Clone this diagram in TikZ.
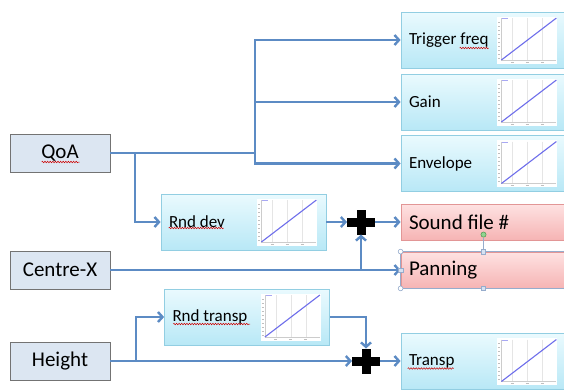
\documentclass[tikz,border=0pt]{standalone}
\usepackage{fontspec}
\setmainfont{Carlito}
\usetikzlibrary{positioning,arrows.meta,decorations.pathmorphing}

\definecolor{flowblue}{RGB}{92,139,196}
\definecolor{srcfill}{RGB}{220,230,242}
\definecolor{cyantop}{RGB}{234,250,254}
\definecolor{cyanbot}{RGB}{184,232,246}
\definecolor{cyanline}{RGB}{146,206,226}
\definecolor{redtop}{RGB}{254,226,226}
\definecolor{redbot}{RGB}{246,180,180}
\definecolor{redline}{RGB}{226,150,150}
\definecolor{selline}{RGB}{150,172,204}
\definecolor{selfill}{RGB}{214,226,242}
\definecolor{plotline}{RGB}{110,110,235}

\tikzset{
  minigraph/.pic={
    \fill[white] (-30,-23.5) rectangle (30,23.5);
    \foreach \gx in {-15,0,15} \draw[black!10, line width=0.4pt] (\gx,-22) -- (\gx,20);
    \draw[black!20, line width=0.4pt] (-26,-22) -- (-26,20) -- (29,20);
    \foreach \gy in {-18,-14,...,18} \draw[black!25, line width=0.6pt] (-29,\gy) -- (-27,\gy);
    \foreach \gx in {-15,0,15} \draw[black!25, line width=0.6pt] (\gx-1.5,22) -- (\gx+1.5,22);
    \draw[plotline!60, line width=0.4pt] (-25,-21.5) -- (-19,-21.5);
    \draw[plotline, line width=1.1pt] (-26,20) -- (29,-22);
  }
}

\begin{document}
\begin{tikzpicture}[x=1pt, y=-1pt,
  srcbox/.style={draw=black!55, fill=srcfill, line width=0.8pt, minimum width=100, minimum height=38, font=\fontsize{21}{25}\selectfont},
  mapbox/.style={draw=cyanline, line width=0.8pt, top color=cyantop, bottom color=cyanbot, text width=149pt, inner xsep=8pt, minimum height=56, align=flush left, font=\fontsize{17}{20}\selectfont},
  outbox/.style={draw=redline, line width=0.8pt, top color=redtop, bottom color=redbot, text width=149pt, inner xsep=8pt, minimum height=36, align=flush left, font=\fontsize{21}{25}\selectfont},
  sumnode/.style={minimum width=28, minimum height=25, inner sep=0pt, outer sep=0pt, path picture={
    \fill[black] ([yshift=-4.5pt]path picture bounding box.west) rectangle ([yshift=4.5pt]path picture bounding box.east);
    \fill[black] ([xshift=-4.5pt]path picture bounding box.south) rectangle ([xshift=4.5pt]path picture bounding box.north);}},
  flow/.style={draw=flowblue, line width=2.4pt, -{Straight Barb[length=4.5pt,width=10pt]}},
  link/.style={draw=flowblue, line width=2.4pt},
  squiggle/.style={draw=red!80!black, line width=0.5pt, decorate, decoration={snake, amplitude=0.8pt, segment length=2.6pt}},
  handle/.style={draw=selline, line width=0.6pt}]
  \useasboundingbox (0,0) rectangle (564,389);
  \clip (0,0) rectangle (564,389);
  \fill[white] (0,0) rectangle (564,389);

  \node[srcbox] (qoa) at (60,153) {QoA};
  \node[srcbox] (centrex) at (60,270) {Centre-X};
  \node[srcbox] (height) at (60,361) {Height};

  \node[mapbox] (trig) at (483.5,40) {Trigger freq};
  \node[mapbox] (gain) at (483.5,102) {Gain};
  \node[mapbox] (env) at (483.5,163.5) {Envelope};
  \node[outbox] (sound) at (483.5,222) {Sound file \#};
  \node[outbox] (pan) at (483.5,270) {Panning};
  \node[mapbox] (transp) at (483.5,361.5) {Transp};
  \node[mapbox] (rnddev) at (243.5,222) {Rnd dev};
  \node[mapbox] (rndtr) at (247,317) {Rnd transp};

  \foreach \b in {trig,gain,env,transp,rnddev,rndtr}
    \path (\b.east) ++(-39,0) pic {minigraph};

  \node[sumnode] (sum1) at (361,222) {};
  \node[sumnode] (sum2) at (366,361) {};

  \coordinate (qtap) at (135,153);
  \coordinate (qsplit) at (255,153);
  \coordinate (ctap) at (sum1 |- centrex.east);
  \coordinate (htap) at (136,361);

  \draw[link] (qoa.east) -- (qsplit);
  \draw[flow] (qsplit) |- (trig.west);
  \draw[flow] (qsplit) |- (gain.west);
  \draw[flow] (qsplit) |- (env.west);
  \draw[flow] (qtap) |- (rnddev.west);
  \draw[flow] (rnddev.east) -- (rnddev.east -| sum1.west);
  \draw[flow] (sum1.east) -- (sum1.east -| sound.west);
  \draw[flow] (centrex.east) -- (centrex.east -| pan.west);
  \draw[flow] (ctap) -- (sum1.south);
  \draw[flow] (height.east) -- (height.east -| sum2.west);
  \draw[flow] (htap) |- (rndtr.west);
  \draw[flow] (rndtr.east) -| (sum2.north);
  \draw[flow] (sum2.east) -- (sum2.east -| transp.west);

  \draw[squiggle] (qoa.west) ++(32,9) -- ++(38,0);
  \draw[squiggle] (trig.west) ++(59,8) -- ++(29,0);
  \draw[squiggle] (rnddev.west) ++(8,6) -- ++(55,0);
  \draw[squiggle] (rndtr.west) ++(9,7) -- ++(77,0);
  \draw[squiggle] (transp.west) ++(7,7) -- ++(46,0);

  % selection handles on Panning
  \draw[handle, line width=0.5pt] (pan.north west) rectangle (pan.south east);
  \draw[handle, line width=0.5pt] (pan.north) -- ++(0,-14);
  \foreach \a in {north west,south west,north east,south east}
    \draw[handle, fill=white] (pan.\a) circle (2.4pt);
  \foreach \a in {north,south,west,east}
    \draw[handle, fill=selfill] ([xshift=-2.2pt,yshift=-2.2pt]pan.\a) rectangle ([xshift=2.2pt,yshift=2.2pt]pan.\a);
  \draw[draw=green!40!black!70, fill=green!45!gray!60, line width=0.5pt] (pan.north) ++(0,-17) circle (2.6pt);
\end{tikzpicture}
\end{document}
